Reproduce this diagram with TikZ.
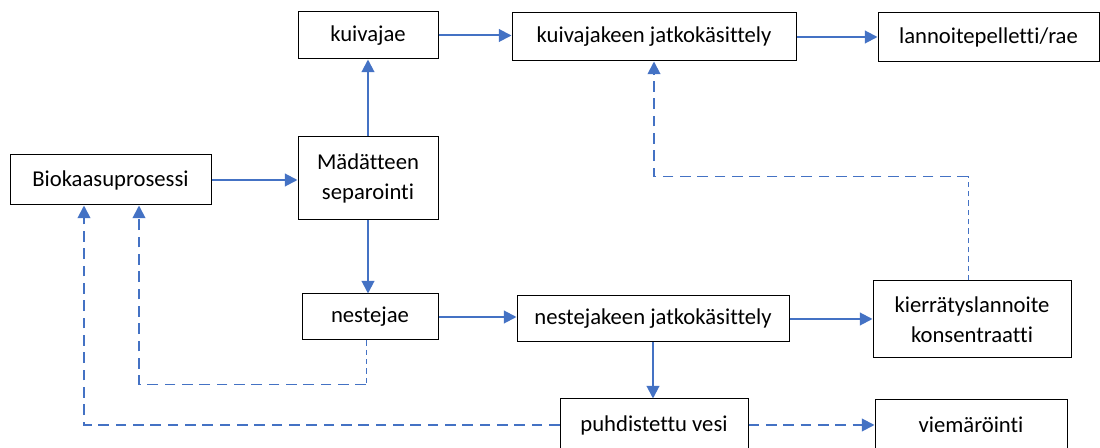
\documentclass[tikz,border=0pt]{standalone}
\usepackage{fontspec}
\setmainfont{Carlito}[Ligatures=NoCommon]
\usetikzlibrary{arrows.meta,calc}
\definecolor{flowblue}{RGB}{68,114,196}

\begin{document}
\begin{tikzpicture}[x=0.75pt,y=0.75pt,yscale=-1,xscale=1,
  box/.style={draw=black,line width=0.75pt,fill=white,inner sep=0pt,align=center,font=\fontsize{17}{22.5}\selectfont},
  flow/.style={draw=flowblue,line width=1.5pt,-{Triangle[length=9.5pt,width=9.5pt]}},
  back/.style={draw=flowblue,line width=1.4pt,dash pattern=on 8pt off 5pt,-{Triangle[length=9.5pt,width=9.5pt]}},
  thinback/.style={draw=flowblue,line width=0.6pt,dash pattern=on 4pt off 3pt}]
\useasboundingbox (0,0) rectangle (1100,448);
\clip (0,0) rectangle (1100,448);

%Shape: Rectangle [upper row]
\node[box,minimum width=105pt,minimum height=35.25pt] (kuivajae) at (368,35.5) {kuivajae};
\node[box,minimum width=213pt,minimum height=36pt] (kuivajatko) at (654,37) {kuivajakeen jatkokäsittely};
\node[box,minimum width=165.75pt,minimum height=36.75pt] (lannoite) at (988.5,37.5) {lannoitepelletti/rae};
%Shape: Rectangle [middle row]
\node[box,minimum width=150.75pt,minimum height=37.5pt] (biokaasu) at (110.5,180) {Biokaasuprosessi};
\node[box,minimum width=105pt,minimum height=62.25pt] (separointi) at (368,178.5) {Mädätteen\\separointi};
%Shape: Rectangle [lower rows]
\node[box,minimum width=102pt,minimum height=34.5pt] (nestejae) at (370,317) {nestejae};
\node[box,minimum width=204pt,minimum height=34.5pt] (nestejatko) at (653,319) {nestejakeen jatkokäsittely};
\node[box,minimum width=148.5pt,minimum height=57.75pt] (konsentraatti) at (972,319.5) {kierrätyslannoite\\konsentraatti};
\node[box,minimum width=141pt,minimum height=39pt] (vesi) at (654,425) {puhdistettu vesi};
\node[box,minimum width=144pt,minimum height=37.5pt] (viemari) at (971,425) {viemäröinti};

%Straight Lines [main flow]
\draw[flow] (biokaasu.east) -- (biokaasu.east -| separointi.west);
\draw[flow] (separointi.north) -- (separointi.north |- kuivajae.south);
\draw[flow] (separointi.south) -- (separointi.south |- nestejae.north);
\draw[flow] (kuivajae.east) -- (kuivajae.east -| kuivajatko.west);
\draw[flow] (kuivajatko.east) -- (kuivajatko.east -| lannoite.west);
\draw[flow] (nestejae.east) -- (nestejae.east -| nestejatko.west);
\draw[flow] (nestejatko.east) -- (nestejatko.east -| konsentraatti.west);
\draw[flow] (nestejatko.south) -- (nestejatko.south |- vesi.north);

%Dashed Lines [returns]
\coordinate (bioL) at ($(biokaasu.south)+(-26.5,0)$);
\coordinate (bioR) at ($(biokaasu.south)+(28.5,0)$);
\coordinate (nesteB) at ($(nestejae.south)+(-4,44)$);
\coordinate (konsT) at ($(konsentraatti.north)+(-4,-104)$);
\draw[back] (vesi.west) -| (bioL);
\draw[thinback] (nestejae.south -| nesteB) -- (nesteB);
\draw[back] (nesteB) -| (bioR);
\draw[thinback] (konsentraatti.north -| konsT) -- (konsT);
\draw[back] (konsT) -| (kuivajatko.south);
\draw[back] (vesi.east) -- (vesi.east -| viemari.west);
\end{tikzpicture}
\end{document}
